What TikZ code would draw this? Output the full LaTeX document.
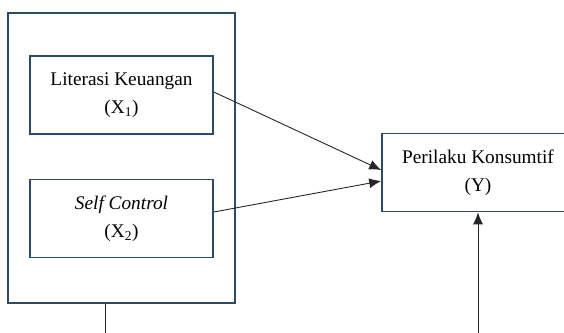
\documentclass[tikz,border=0pt]{standalone}
\usepackage{fontspec}
\setmainfont{Liberation Serif}
\usetikzlibrary{arrows.meta}
\definecolor{boxblue}{HTML}{2E4B66}
\tikzset{
	outerstyle/.style={rectangle,draw=boxblue,line width=1.6pt,minimum width=227pt,minimum height=290pt},
	varstyle/.style={rectangle,draw=boxblue,line width=1.6pt,minimum width=183pt,minimum height=78pt,align=center,font=\fontsize{19.3}{28}\selectfont},
	linkstyle/.style={draw=black!85,line width=0.9pt}
}
\begin{document}
\begin{tikzpicture}[x=1pt,y=-1pt]
	\clip (0,0) rectangle (564,332);
	\node[outerstyle] (outer) at (121.5,158) {};
	\node[varstyle] (xone) at (121.5,95) {Literasi Keuangan\\(X\textsubscript{1})};
	\node[varstyle] (xtwo) at (121.5,218.5) {\textit{Self Control}\\(X\textsubscript{2})};
	\node[varstyle,minimum width=192pt] (y) at (478,172.5) {Perilaku Konsumtif\\(Y)};
	\coordinate (down) at (105,340);
	\coordinate (up) at (478,340);
	\draw[linkstyle,-{Latex[length=12pt,width=10pt]}] ([yshift=3pt]xone.east)--([yshift=2.5pt]y.west);
	\draw[linkstyle,-{Latex[length=12pt,width=10pt]}] ([yshift=6.5pt]xtwo.east)--([yshift=-8.5pt]y.west);
	\draw[linkstyle] (outer.south -| down)--(down);
	\draw[linkstyle,-{Latex[length=12pt,width=10pt]}] (up)--(y.south);
\end{tikzpicture}
\end{document}
